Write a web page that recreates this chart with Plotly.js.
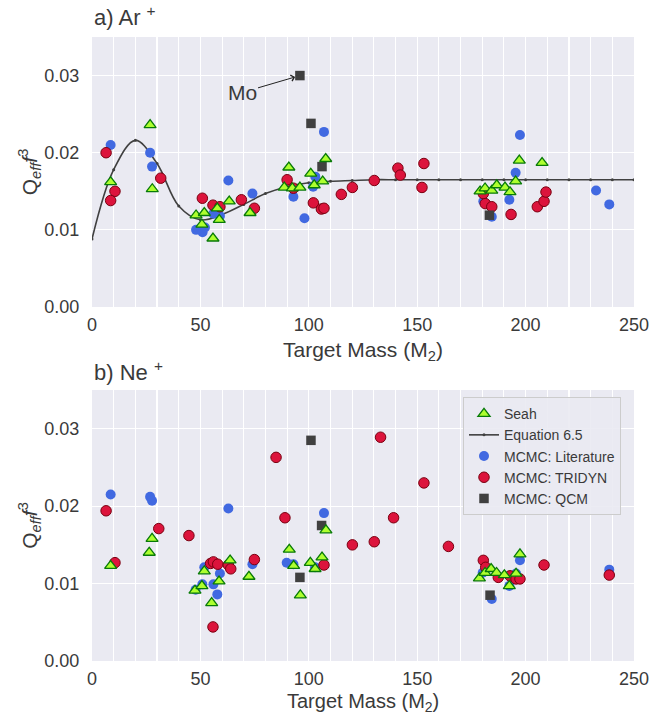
<!DOCTYPE html>
<html>
<head>
<meta charset="utf-8">
<script src="https://cdn.plot.ly/plotly-3.0.1.min.js"></script>
<style>html,body{margin:0;padding:0;background:#fff;}</style>
</head>
<body>
<div id="chart" style="width:654px;height:716px;"></div>
<script>
// ---------- a) Ar+ ----------
const arSeahX = [8.6, 26.8, 27.8, 48, 51.8, 50.7, 57.8, 58.7, 55.8, 63.3, 72.9, 88.7, 90.8, 92.4, 95.9, 100.9, 102.5, 106.4, 107.8, 179, 181.3, 184.4, 186.7, 190.5, 192.8, 195.4, 197.1, 207.6];
const arSeahY = [0.0162, 0.0236, 0.0153, 0.0119, 0.0122, 0.0107, 0.0128, 0.0113, 0.0089, 0.0137, 0.0122, 0.0155, 0.0181, 0.0154, 0.0155, 0.0173, 0.0158, 0.0163, 0.0192, 0.0150, 0.0154, 0.0151, 0.0158, 0.0155, 0.0149, 0.0163, 0.0190, 0.0187];

const arLitX = [8.6, 26.8, 27.7, 48, 51, 52.1, 56, 59, 62.9, 74, 92.9, 98, 102, 103, 107, 180.5, 184.4, 192.5, 195.4, 197.4, 232.5, 238.6];
const arLitY = [0.0210, 0.0200, 0.0182, 0.0100, 0.0097, 0.0103, 0.0121, 0.0118, 0.0164, 0.0147, 0.0143, 0.0115, 0.0156, 0.0169, 0.0227, 0.0137, 0.0117, 0.0139, 0.0174, 0.0223, 0.0151, 0.0133];

const arTriX = [6.5, 10.6, 8.6, 31.7, 50.9, 55.8, 59, 68.9, 74.9, 90, 92.9, 102.1, 105.8, 107, 115, 120.1, 130.2, 141.1, 142.2, 152.2, 153.1, 180.5, 181.4, 184.4, 193.3, 205.4, 208.5, 209.4];
const arTriY = [0.0200, 0.0150, 0.0138, 0.0167, 0.0141, 0.0132, 0.0130, 0.0139, 0.0128, 0.0165, 0.0154, 0.0135, 0.0127, 0.0128, 0.0146, 0.0155, 0.0164, 0.0180, 0.0171, 0.0155, 0.0186, 0.0147, 0.0134, 0.0130, 0.0120, 0.0130, 0.0137, 0.0149];

const arQcmX = [95.9, 101, 106.1, 183.3];
const arQcmY = [0.0300, 0.0238, 0.0182, 0.0119];

// Equation 6.5 curve
const eqX = [0, 10, 20, 30, 40, 50, 60, 70, 80, 90, 100, 110, 120, 130, 140, 150, 160, 170, 180, 190, 200, 210, 220, 230, 240, 250];
const eqY = [0.0088, 0.0178, 0.0216, 0.0186, 0.0131, 0.0113, 0.0120, 0.0133, 0.0147, 0.0156, 0.0161, 0.0163, 0.0164, 0.0165, 0.0165, 0.0165, 0.0165, 0.0165, 0.0165, 0.0165, 0.0165, 0.0165, 0.0165, 0.0165, 0.0165, 0.0165];

// ---------- b) Ne+ ----------
const neSeahX = [8.6, 26.4, 27.7, 47.5, 50.7, 51.8, 55.2, 58.6, 63.7, 72.4, 91, 93, 96.1, 100.7, 102.9, 106.1, 107.9, 178.7, 181.3, 184.1, 186.6, 190.2, 192.5, 195.6, 197.4];
const neSeahY = [0.0123, 0.0140, 0.0158, 0.0091, 0.0097, 0.0116, 0.0075, 0.0103, 0.0130, 0.0109, 0.0144, 0.0123, 0.0085, 0.0127, 0.0119, 0.0134, 0.0169, 0.0107, 0.0114, 0.0119, 0.0114, 0.0111, 0.0097, 0.0113, 0.0138];

const neLitX = [8.6, 26.8, 27.7, 47.8, 50.9, 51.8, 56, 57.8, 59, 62.9, 74, 89.8, 92.9, 102.9, 107, 180.2, 184.4, 192.5, 195.6, 197.4, 238.6];
const neLitY = [0.0215, 0.0212, 0.0207, 0.0092, 0.0099, 0.0121, 0.0099, 0.0086, 0.0113, 0.0197, 0.0125, 0.0127, 0.0125, 0.0121, 0.0191, 0.0114, 0.0080, 0.0097, 0.0113, 0.0130, 0.0118];

const neTriX = [6.5, 10.6, 30.8, 44.7, 54.7, 55.8, 56, 58, 62.9, 64, 74.9, 84.9, 89, 107, 120.1, 130.2, 133.1, 139.1, 153.1, 164.4, 180.5, 181.6, 187.4, 192.8, 195.6, 197.4, 208.5, 238.6];
const neTriY = [0.0194, 0.0127, 0.0171, 0.0162, 0.0126, 0.0044, 0.0128, 0.0125, 0.0124, 0.0119, 0.0131, 0.0263, 0.0185, 0.0124, 0.0150, 0.0154, 0.0289, 0.0185, 0.0230, 0.0148, 0.0130, 0.0121, 0.0108, 0.0110, 0.0106, 0.0106, 0.0124, 0.0111];

const neQcmX = [95.9, 101, 105.9, 183.6];
const neQcmY = [0.0108, 0.0285, 0.0175, 0.0085];

const xTicks = [0, 50, 100, 150, 200, 250];
const yTicks = [0.00, 0.01, 0.02, 0.03];
const xTitle = 'Target Mass (M<sub>2</sub>)';
const yTitle = 'Q<sub><i>eff</i></sub><i>f</i><sup>3</sup>';

// ---------- styles ----------
const FONT = 'Liberation Sans, Arial, sans-serif';
const TXT = '#3a3a3a';
const seahM = {symbol: 'triangle-up', size: 10.5, color: '#adff2f', line: {color: '#087a08', width: 1.3}};
const litM = {symbol: 'circle', size: 10, color: '#4169e1', line: {width: 0}};
const triM = {symbol: 'circle', size: 10.5, color: '#dc143c', line: {color: '#7a0010', width: 1}};
const qcmM = {symbol: 'square', size: 9.5, color: '#404040', line: {width: 0}};

function sc(x, y, m, name, xa, ya, show, rank) {
  return {type: 'scatter', mode: 'markers', x: x, y: y, marker: m, name: name,
          xaxis: xa, yaxis: ya, showlegend: show, legendrank: rank, cliponaxis: false};
}

const traces = [
  {type: 'scatter', mode: 'lines+markers', x: eqX, y: eqY, name: 'Equation 6.5',
   line: {color: '#404040', width: 1.6, shape: 'spline', smoothing: 1},
   marker: {size: 3, color: '#404040'}, xaxis: 'x', yaxis: 'y', showlegend: true, legendrank: 2},
  sc(arLitX, arLitY, litM, 'MCMC: Literature', 'x', 'y', true, 3),
  sc(arTriX, arTriY, triM, 'MCMC: TRIDYN', 'x', 'y', true, 4),
  sc(arQcmX, arQcmY, qcmM, 'MCMC: QCM', 'x', 'y', true, 5),
  sc(arSeahX, arSeahY, seahM, 'Seah', 'x', 'y', true, 1),
  sc(neLitX, neLitY, litM, 'MCMC: Literature', 'x2', 'y2', false, 3),
  sc(neTriX, neTriY, triM, 'MCMC: TRIDYN', 'x2', 'y2', false, 4),
  sc(neQcmX, neQcmY, qcmM, 'MCMC: QCM', 'x2', 'y2', false, 5),
  sc(neSeahX, neSeahY, seahM, 'Seah', 'x2', 'y2', false, 1)
];

function xax(anchor) {
  return {anchor: anchor, domain: [0, 1], range: [0, 250], tickvals: xTicks,
    showgrid: true, gridcolor: '#ffffff', gridwidth: 1.1, zeroline: false, showline: false,
    minor: {dtick: 10, showgrid: true, gridcolor: '#ffffff', gridwidth: 1.1},
    ticks: 'outside', ticklen: 1, tickcolor: 'rgba(0,0,0,0)',
    tickfont: {family: FONT, size: 18, color: TXT}};
}
function yax(anchor, dom) {
  return {anchor: anchor, domain: dom, range: [0, 0.035], tickvals: yTicks, tickformat: '.2f',
    showgrid: true, gridcolor: '#ffffff', gridwidth: 1.1, zeroline: false, showline: false,
    ticks: 'outside', ticklen: 8, tickcolor: 'rgba(0,0,0,0)',
    tickfont: {family: FONT, size: 18, color: TXT},
    title: {text: yTitle, font: {family: FONT, size: 21, color: TXT}, standoff: 0}};
}

const TOPB = 0.5673, BOTT = 0.4343;
const layout = {
  width: 654, height: 716,
  margin: {l: 92, r: 20, t: 37, b: 55},
  paper_bgcolor: '#ffffff', plot_bgcolor: '#eaeaf2',
  font: {family: FONT, color: TXT},
  xaxis: xax('y'), yaxis: yax('x', [TOPB, 1]),
  xaxis2: xax('y2'), yaxis2: yax('x2', [0, BOTT]),
  showlegend: true,
  legend: {x: 0.6845, y: 0.423, xanchor: 'left', yanchor: 'top',
    bgcolor: 'rgba(234,234,242,0.9)', bordercolor: '#cccccc', borderwidth: 1,
    font: {family: FONT, size: 14, color: TXT}, tracegroupgap: 0, itemwidth: 30},
  annotations: [
    {xref: 'paper', yref: 'paper', x: 0, y: 1, yshift: 5, xanchor: 'left', yanchor: 'bottom',
     text: 'a) Ar&nbsp;<sup>+</sup>', showarrow: false, font: {family: FONT, size: 22, color: TXT}},
    {xref: 'paper', yref: 'paper', x: 0, y: BOTT, yshift: 3, xanchor: 'left', yanchor: 'bottom',
     text: 'b) Ne&nbsp;<sup>+</sup>', showarrow: false, font: {family: FONT, size: 22, color: TXT}},
    {xref: 'paper', yref: 'paper', x: 0.5, y: TOPB, yshift: -44, xanchor: 'center', yanchor: 'middle',
     text: xTitle, showarrow: false, font: {family: FONT, size: 21, color: TXT}},
    {xref: 'paper', yref: 'paper', x: 0.5, y: 0, yshift: -41, xanchor: 'center', yanchor: 'middle',
     text: xTitle, showarrow: false, font: {family: FONT, size: 20, color: TXT}},
    {xref: 'x', yref: 'y', x: 95.9, y: 0.0300, axref: 'x', ayref: 'y', ax: 69.2, ay: 0.0278,
     text: 'Mo', showarrow: true, arrowhead: 4, arrowsize: 1.2, arrowwidth: 1, arrowcolor: '#222222',
     standoff: 5, font: {family: FONT, size: 21, color: TXT}}
  ]
};

Plotly.newPlot('chart', traces, layout, {displayModeBar: false, staticPlot: true});
</script>
</body>
</html>
